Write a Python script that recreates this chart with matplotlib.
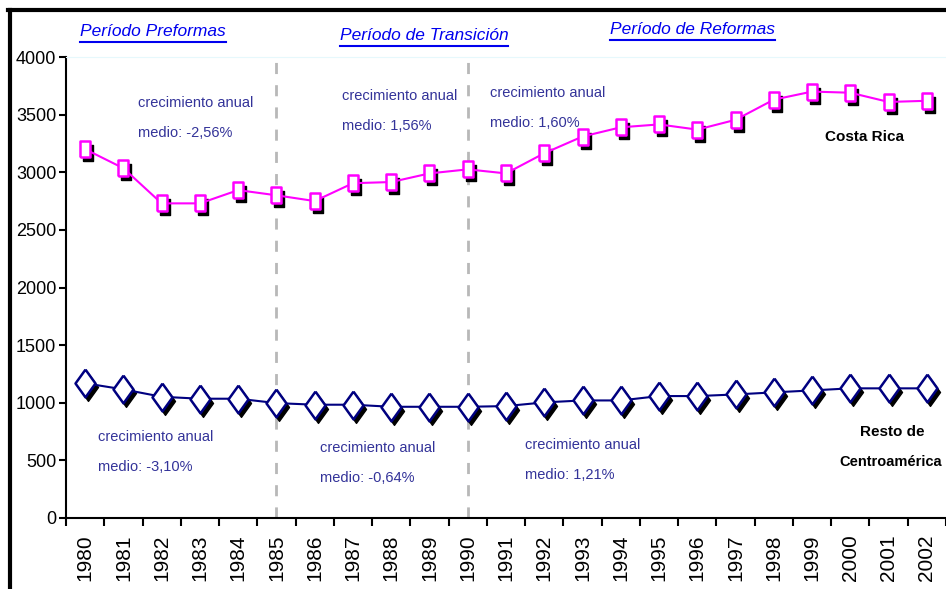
import numpy as np
import matplotlib
matplotlib.use("Agg")
import matplotlib.pyplot as plt
import matplotlib.transforms as mtrans
from matplotlib.lines import Line2D

plt.rcParams['font.family'] = ['Liberation Sans', 'DejaVu Sans']

years = [str(y) for y in range(1980, 2003)]
costa_rica = [3200, 3035, 2730, 2730, 2845, 2800, 2750, 2905, 2915, 2990, 3025,
              2990, 3165, 3310, 3390, 3415, 3370, 3455, 3630, 3700, 3690, 3610, 3620]
resto = [1169, 1116, 1052, 1035, 1035, 997, 983, 983, 965, 965, 965,
         971, 1003, 1020, 1020, 1058, 1058, 1072, 1090, 1107, 1125, 1125, 1125]
yticks = [0, 500, 1000, 1500, 2000, 2500, 3000, 3500, 4000]
period_breaks = [5, 10]
periods = ['Período Preformas', 'Período de Transición', 'Período de Reformas']
growth_cr = ['-2,56%', '1,56%', '1,60%']
growth_rc = ['-3,10%', '-0,64%', '1,21%']

fig = plt.figure(figsize=(9.46, 5.89), dpi=100)
W, H = 946, 589
ax = fig.add_axes([66 / W, 1 - 518 / H, 1 - 66 / W, (518 - 57) / H])

x = np.arange(len(years))
shadow = mtrans.offset_copy(ax.transData, fig=fig, x=3, y=-4, units='dots')

rect = [(-0.6, -1), (0.6, -1), (0.6, 1), (-0.6, 1), (-0.6, -1)]
diam = [(0, 1), (0.72, 0), (0, -1), (-0.72, 0), (0, 1)]

# shadows
ax.plot(x, costa_rica, ls='none', marker=rect, ms=11, mfc='black', mec='black', transform=shadow, zorder=3)
ax.plot(x, resto, ls='none', marker=diam, ms=20, mfc='black', mec='black', transform=shadow, zorder=3)

ax.plot(x, costa_rica, color='#ff00ff', lw=1.5, marker=rect, ms=11, mfc='white',
        mec='#ff00ff', mew=1.8, zorder=4)
ax.plot(x, resto, color='#000080', lw=1.5, marker=diam, ms=20, mfc='white',
        mec='#000080', mew=1.8, zorder=4)

for b in period_breaks:
    ax.axvline(b, ymax=0.99, color='#b8b8b8', ls=(0, (4, 4)), lw=2, zorder=2)

ax.set_xlim(-0.5, len(years) - 0.5)
ax.set_ylim(0, 4000)
ax.set_yticks(yticks)
ax.set_yticklabels([str(v) for v in yticks], fontsize=13)
ax.set_xticks(np.arange(-0.5, len(years), 1))
ax.set_xticklabels([])
ax.set_xticks(x, minor=True)
ax.set_xticklabels(years, minor=True, rotation=90, fontsize=15)
ax.tick_params(axis='x', which='minor', length=0, pad=12)
ax.tick_params(axis='x', which='major', length=6, width=1.5, direction='out')
ax.tick_params(axis='y', length=5, width=1.5, direction='out', pad=2)
ax.spines['right'].set_visible(False)
ax.spines['top'].set_color('#e6f8fc')
ax.spines['left'].set_linewidth(1.5)
ax.spines['bottom'].set_linewidth(1.5)

# period titles (underlined)
title_pos = [(80, 32), (340, 36), (610, 30)]
title_w = [146, 168, 165]
for t, (px, py), wd in zip(periods, title_pos, title_w):
    fig.text(px / W, 1 - py / H, t, color='#0000ee', fontsize=12.5, style='italic',
             ha='left', va='center')
    fig.add_artist(Line2D([px / W, (px + wd) / W], [1 - (py + 10) / H] * 2,
                          color='#0000ee', lw=1.5))

ann_col = '#333399'
cr_pos = [(138, 103), (342, 96), (490, 93)]
for g, (px, py) in zip(growth_cr, cr_pos):
    fig.text(px / W, 1 - py / H, 'crecimiento anual', color=ann_col, fontsize=10.5, va='center')
    fig.text(px / W, 1 - (py + 30) / H, 'medio: ' + g, color=ann_col, fontsize=10.5, va='center')
rc_pos = [(98, 437), (320, 448), (525, 445)]
for g, (px, py) in zip(growth_rc, rc_pos):
    fig.text(px / W, 1 - py / H, 'crecimiento anual', color=ann_col, fontsize=10.5, va='center')
    fig.text(px / W, 1 - (py + 30) / H, 'medio: ' + g, color=ann_col, fontsize=10.5, va='center')

fig.text(864 / W, 1 - 137 / H, 'Costa Rica', fontsize=11, weight='bold', ha='center', va='center')
fig.text(892 / W, 1 - 432 / H, 'Resto de', fontsize=11, weight='bold', ha='center', va='center')
fig.text(891 / W, 1 - 462 / H, 'Centroamérica', fontsize=10.5, weight='bold', ha='center', va='center')

# outer frame
fig.add_artist(Line2D([8 / W, 1], [1 - 10 / H] * 2, color='black', lw=3))
fig.add_artist(Line2D([10 / W] * 2, [0, 1 - 10 / H], color='black', lw=3))

fig.savefig('out.png', dpi=100)
